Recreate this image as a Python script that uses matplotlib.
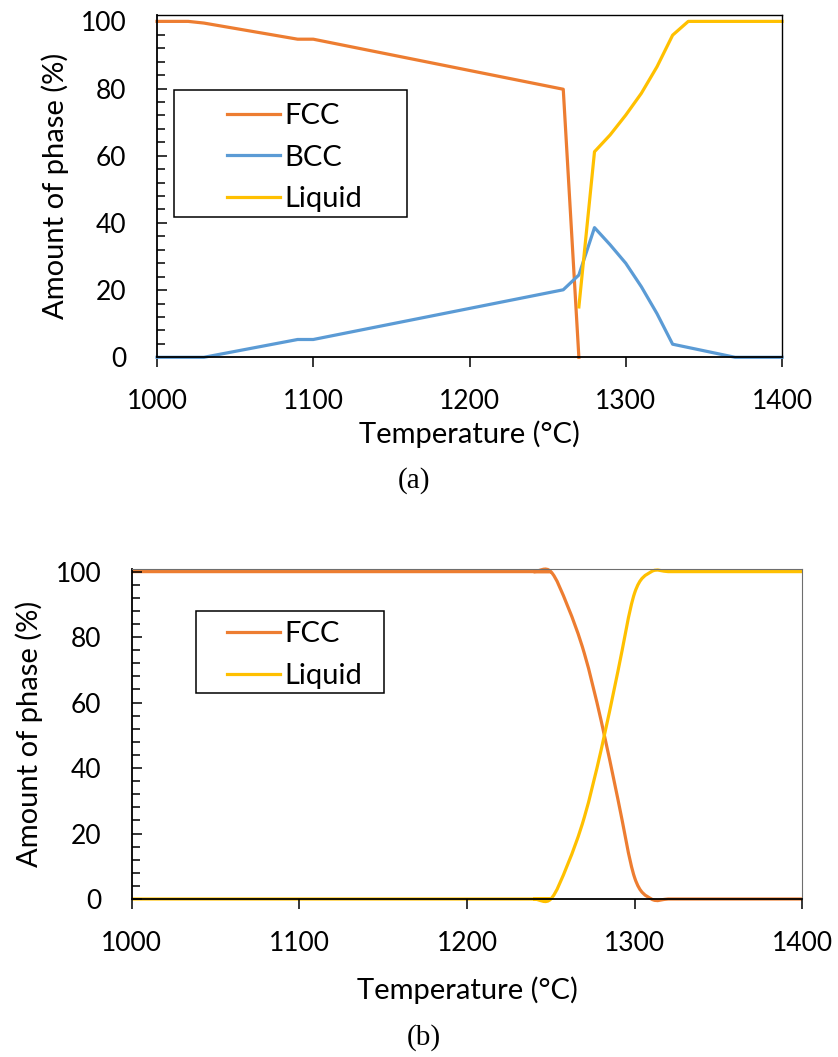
import matplotlib
matplotlib.use("Agg")
import matplotlib.pyplot as plt
from matplotlib.lines import Line2D
from matplotlib.patches import PathPatch, Rectangle
from matplotlib.path import Path
from matplotlib.ticker import MultipleLocator

plt.rcParams['font.family'] = ['Lato', 'DejaVu Sans']

ORANGE = '#ED7D31'
BLUE = '#5B9BD5'
YELLOW = '#FFC000'

# (a) phase amounts, straight segments
temp_fcc_a = [1000, 1020, 1030, 1090, 1100, 1260, 1270]
fcc_a = [100, 100, 99.5, 94.7, 94.7, 79.8, 0]

temp_bcc_a = [1000, 1030, 1090, 1100, 1260, 1270, 1280, 1290, 1300, 1310, 1320, 1330, 1370, 1400]
bcc_a = [0, 0, 5.3, 5.3, 20.1, 24.5, 38.6, 33.5, 28.0, 21.0, 13.0, 3.9, 0, 0]

temp_liq_a = [1270, 1280, 1290, 1300, 1310, 1320, 1330, 1340, 1400]
liq_a = [15.0, 61.2, 66.2, 72.1, 78.6, 86.5, 95.9, 100, 100]

# (b) phase amounts, smoothed line
temp_b = [1000, 1230, 1240, 1250, 1260, 1270, 1280, 1290, 1300, 1310, 1320, 1330, 1400]
liq_b = [0, 0, 0, 0, 10.5, 25.0, 45.5, 69.5, 93.5, 100, 100, 100, 100]
fcc_b = [100 - v for v in liq_b]

LW = 2.3
TICK_FS = 19
LABEL_FS = 21
LEGEND_FS = 21


def smooth_path(xs, ys):
    # cubic bezier through every point, excel "smoothed line" style
    pts = list(zip(xs, ys))
    n = len(pts)
    verts = [pts[0]]
    codes = [Path.MOVETO]
    for i in range(n - 1):
        p0 = pts[max(i - 1, 0)]
        p1 = pts[i]
        p2 = pts[i + 1]
        p3 = pts[min(i + 2, n - 1)]
        c1 = (p1[0] + (p2[0] - p0[0]) / 6, p1[1] + (p2[1] - p0[1]) / 6)
        c2 = (p2[0] - (p3[0] - p1[0]) / 6, p2[1] - (p3[1] - p1[1]) / 6)
        verts += [c1, c2, p2]
        codes += [Path.CURVE4] * 3
    return Path(verts, codes)


def style_axes(ax, ymax, frame_color, frame_lw):
    ax.set_xlim(1000, 1400)
    ax.set_ylim(0, ymax)
    ax.xaxis.set_major_locator(MultipleLocator(100))
    ax.yaxis.set_major_locator(MultipleLocator(20))
    ax.yaxis.set_minor_locator(MultipleLocator(4))
    ax.tick_params(axis='x', direction='out', length=7, width=1.1,
                   labelsize=TICK_FS, pad=16)
    ax.tick_params(axis='y', which='major', direction='in', length=7.5,
                   width=1.1, labelsize=TICK_FS, pad=22)
    ax.tick_params(axis='y', which='minor', direction='in', length=5.5, width=1.1)
    for s in ['left', 'bottom']:
        ax.spines[s].set_linewidth(1.3)
        ax.spines[s].set_color('black')
    for s in ['top', 'right']:
        ax.spines[s].set_linewidth(frame_lw)
        ax.spines[s].set_color(frame_color)
    ax.set_xlabel('Temperature (°C)', fontsize=LABEL_FS)
    ax.set_ylabel('Amount of phase (%)', fontsize=LABEL_FS)
    ax.xaxis.label.set_va('center')
    ax.yaxis.label.set_va('center')


def add_legend(fig, colors, names, box, anchor_y):
    # white framed box behind a frameless legend
    x0, y0, x1, y1 = box
    fig.patches.append(Rectangle((x0 / W, 1 - y1 / H), (x1 - x0) / W, (y1 - y0) / H,
                                 transform=fig.transFigure, facecolor='white',
                                 edgecolor='black', lw=1.1, zorder=1))
    handles = [Line2D([], [], color=c, lw=LW) for c in colors]
    fig.legend(handles, names, loc='center left',
               bbox_to_anchor=(226.5 / W, 1 - anchor_y / H), frameon=False,
               fontsize=LEGEND_FS, handlelength=1.83, handletextpad=0.17,
               labelspacing=0.54, borderpad=0, borderaxespad=0)


fig = plt.figure(figsize=(8.38, 10.57), dpi=100)
W, H = 838.0, 1057.0

# ---- (a)
ax1 = fig.add_axes([157 / W, 1 - 357.3 / H, 625 / W, 342.3 / H])
ax1.plot(temp_fcc_a, fcc_a, color=ORANGE, lw=LW, clip_on=False)
ax1.plot(temp_bcc_a, bcc_a, color=BLUE, lw=LW, clip_on=False)
ax1.plot(temp_liq_a, liq_a, color=YELLOW, lw=LW, clip_on=False)
style_axes(ax1, 101.9, 'black', 1.0)
ax1.xaxis.set_label_coords(0.5, (357.3 - 434) / 342.3)
ax1.yaxis.set_label_coords((55 - 157) / 625, 0.5)
add_legend(fig, (ORANGE, BLUE, YELLOW), ['FCC', 'BCC', 'Liquid'],
           (174, 90, 407, 217), 157.5)

fig.text(414 / W, 1 - 481 / H, '(a)', family='Liberation Serif',
         fontsize=21, ha='center', va='center')

# ---- (b)
ax2 = fig.add_axes([131.7 / W, 1 - 899 / H, 670.6 / W, 330 / H])
ax2.add_patch(PathPatch(smooth_path(temp_b, fcc_b), facecolor='none',
                        edgecolor=ORANGE, lw=LW, clip_on=False))
ax2.add_patch(PathPatch(smooth_path(temp_b, liq_b), facecolor='none',
                        edgecolor=YELLOW, lw=LW, clip_on=False))
style_axes(ax2, 100.8, '#6e6e6e', 0.8)
ax2.xaxis.set_label_coords(0.5, (899 - 990) / 330)
ax2.yaxis.set_label_coords((29.5 - 131.7) / 670.6, 0.5)
add_legend(fig, (ORANGE, YELLOW), ['FCC', 'Liquid'],
           (196, 610.7, 384.3, 693.3), 655)

fig.text(424 / W, 1 - 1038 / H, '(b)', family='Liberation Serif',
         fontsize=21, ha='center', va='center')

fig.savefig('out.png', dpi=100)
